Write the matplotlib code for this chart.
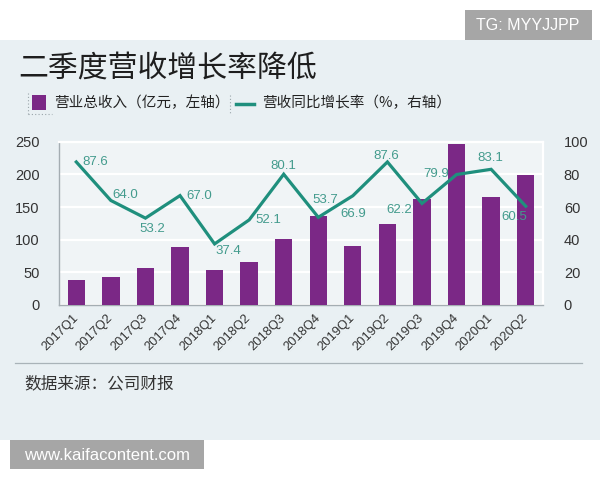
import matplotlib
matplotlib.use("Agg")
import matplotlib.pyplot as plt
from matplotlib.patches import Rectangle
from matplotlib.lines import Line2D
import numpy as np

plt.rcParams['font.family'] = ['Liberation Sans', 'Noto Sans CJK SC', 'DejaVu Sans']

# ---------------- data ----------------
quarters = ["2017Q1", "2017Q2", "2017Q3", "2017Q4", "2018Q1", "2018Q2", "2018Q3",
            "2018Q4", "2019Q1", "2019Q2", "2019Q3", "2019Q4", "2020Q1", "2020Q2"]
revenue = [39, 43, 56, 89, 54, 66, 101, 137, 90, 124, 162, 246, 165, 199]   # 亿元
growth = [87.6, 64.0, 53.2, 67.0, 37.4, 52.1, 80.1, 53.7, 66.9, 87.6, 62.2, 79.9, 83.1, 60.5]  # %
growth_labels = ["87.6", "64.0", "53.2", "67.0", "37.4", "52.1", "80.1",
                 "53.7", "66.9", "87.6", "62.2", "79.9", "83.1", "60.5"]
left_ticks = [0, 50, 100, 150, 200, 250]
right_ticks = [0, 20, 40, 60, 80, 100]

title = "二季度营收增长率降低"
legend_bar = "营业总收入（亿元，左轴）"
legend_line = "营收同比增长率（%，右轴）"
source = "数据来源：公司财报"

# label placement (pixel offsets, ha)
label_pos = [(6, 0, 'left'), (2, 5, 'left'), (7, -11, 'center'), (6, 0, 'left'),
             (1, -7, 'left'), (6, 0, 'left'), (0, 8, 'center'), (7, 17, 'center'),
             (0, -18, 'center'), (-1, 6, 'center'), (-10, -7, 'right'), (-8, 1, 'right'),
             (-1, 11, 'center'), (1, -11, 'right')]

# ---------------- style ----------------
W, H = 600, 480
BAR_C = '#7b2886'
LINE_C = '#1f8f7d'
LABEL_C = '#439b8d'
PANEL_C = '#e9f0f3'
PLOT_C = '#f0f4f6'
CJK = ['Noto Sans CJK SC', 'DejaVu Sans']

def fx(px):
    return px / W

def fy(py):
    return 1 - py / H

fig = plt.figure(figsize=(6, 4.8), dpi=100)
fig.patch.set_facecolor('white')

# background panel
fig.add_artist(Rectangle((fx(0), fy(440)), fx(600), 400 / H, transform=fig.transFigure,
                         facecolor=PANEL_C, edgecolor='none', zorder=0))
# watermark boxes
fig.add_artist(Rectangle((fx(465), fy(40)), 127 / W, 30 / H, transform=fig.transFigure,
                         facecolor='#a6a6a6', edgecolor='none', zorder=1))
fig.text(fx(528), fy(25), "TG: MYYJJPP", color='white', fontsize=11.5,
         ha='center', va='center')
fig.add_artist(Rectangle((fx(10), fy(469)), 194 / W, 29 / H, transform=fig.transFigure,
                         facecolor='#a6a6a6', edgecolor='none', zorder=1))
fig.text(fx(107), fy(455), "www.kaifacontent.com", color='white', fontsize=12,
         ha='center', va='center')

# title
fig.text(fx(18), fy(68), title, fontsize=21.5, family=CJK, color='#1e1e1e',
         ha='left', va='center')

# legend
fig.add_artist(Line2D([fx(28), fx(28)], [fy(93), fy(114)], transform=fig.transFigure,
                      color='#9aa5aa', lw=0.8, ls=(0, (1, 2))))
fig.add_artist(Line2D([fx(28), fx(52)], [fy(114), fy(114)], transform=fig.transFigure,
                      color='#9aa5aa', lw=0.8, ls=(0, (1, 2))))
fig.add_artist(Rectangle((fx(32), fy(110)), 14 / W, 15 / H, transform=fig.transFigure,
                         facecolor=BAR_C, edgecolor='none'))
fig.text(fx(54), fy(103), legend_bar, fontsize=10.5, family=CJK, color='#222222',
         ha='left', va='center')
fig.add_artist(Line2D([fx(230), fx(230)], [fy(95), fy(113)], transform=fig.transFigure,
                      color='#9aa5aa', lw=0.8, ls=(0, (1, 2))))
fig.add_artist(Line2D([fx(236), fx(254)], [fy(104), fy(104)], transform=fig.transFigure,
                      color=LINE_C, lw=2.5))
fig.text(fx(262), fy(103), legend_line, fontsize=10.5, family=CJK, color='#222222',
         ha='left', va='center')

# separator and source
fig.add_artist(Line2D([fx(15), fx(582)], [fy(363), fy(363)], transform=fig.transFigure,
                      color='#a9b3b8', lw=0.9))
fig.text(fx(24), fy(384), source, fontsize=12, family=CJK, color='#333333',
         ha='left', va='center')

# ---------------- axes ----------------
ax = fig.add_axes([fx(59), fy(305), (543 - 59) / W, (305 - 141.7) / H])
ax.set_facecolor(PLOT_C)
x = np.arange(len(quarters))
ax.bar(x, revenue, width=0.5, color=BAR_C, zorder=3)
ax.set_xlim(-0.5, len(quarters) - 0.5)
ax.set_ylim(0, 250)
ax.set_yticks(left_ticks)
ax.yaxis.grid(True, color='white', lw=1.6, zorder=0)
ax.set_axisbelow(True)
ax.set_xticks(x)
ax.set_xticklabels(quarters, rotation=45, ha='right', va='center',
                   rotation_mode='anchor', fontsize=9.3, color='#333333')
ax.tick_params(axis='x', length=0, pad=8)
ax.tick_params(axis='y', length=0, pad=14, labelsize=10.5, labelcolor='#333333')
for s in ['left', 'bottom']:
    ax.spines[s].set_color('#a4adb2')
    ax.spines[s].set_linewidth(1.0)
for s in ['top', 'right']:
    ax.spines[s].set_color('white')
    ax.spines[s].set_linewidth(1.6)

ax2 = ax.twinx()
ax2.set_ylim(0, 100)
ax2.set_yticks(right_ticks)
ax2.tick_params(axis='y', length=0, pad=15, labelsize=10.5, labelcolor='#333333')
for s in ax2.spines.values():
    s.set_visible(False)
ax2.plot(x, growth, color=LINE_C, lw=2.3, zorder=4, solid_joinstyle='miter')
for xi, v, lab, (dx, dy, ha) in zip(x, growth, growth_labels, label_pos):
    ax2.annotate(lab, (xi, v), xytext=(dx, dy), textcoords='offset pixels',
                 ha=ha, va='center', fontsize=9.5, color=LABEL_C, zorder=5)

fig.savefig("out.png", dpi=100)
